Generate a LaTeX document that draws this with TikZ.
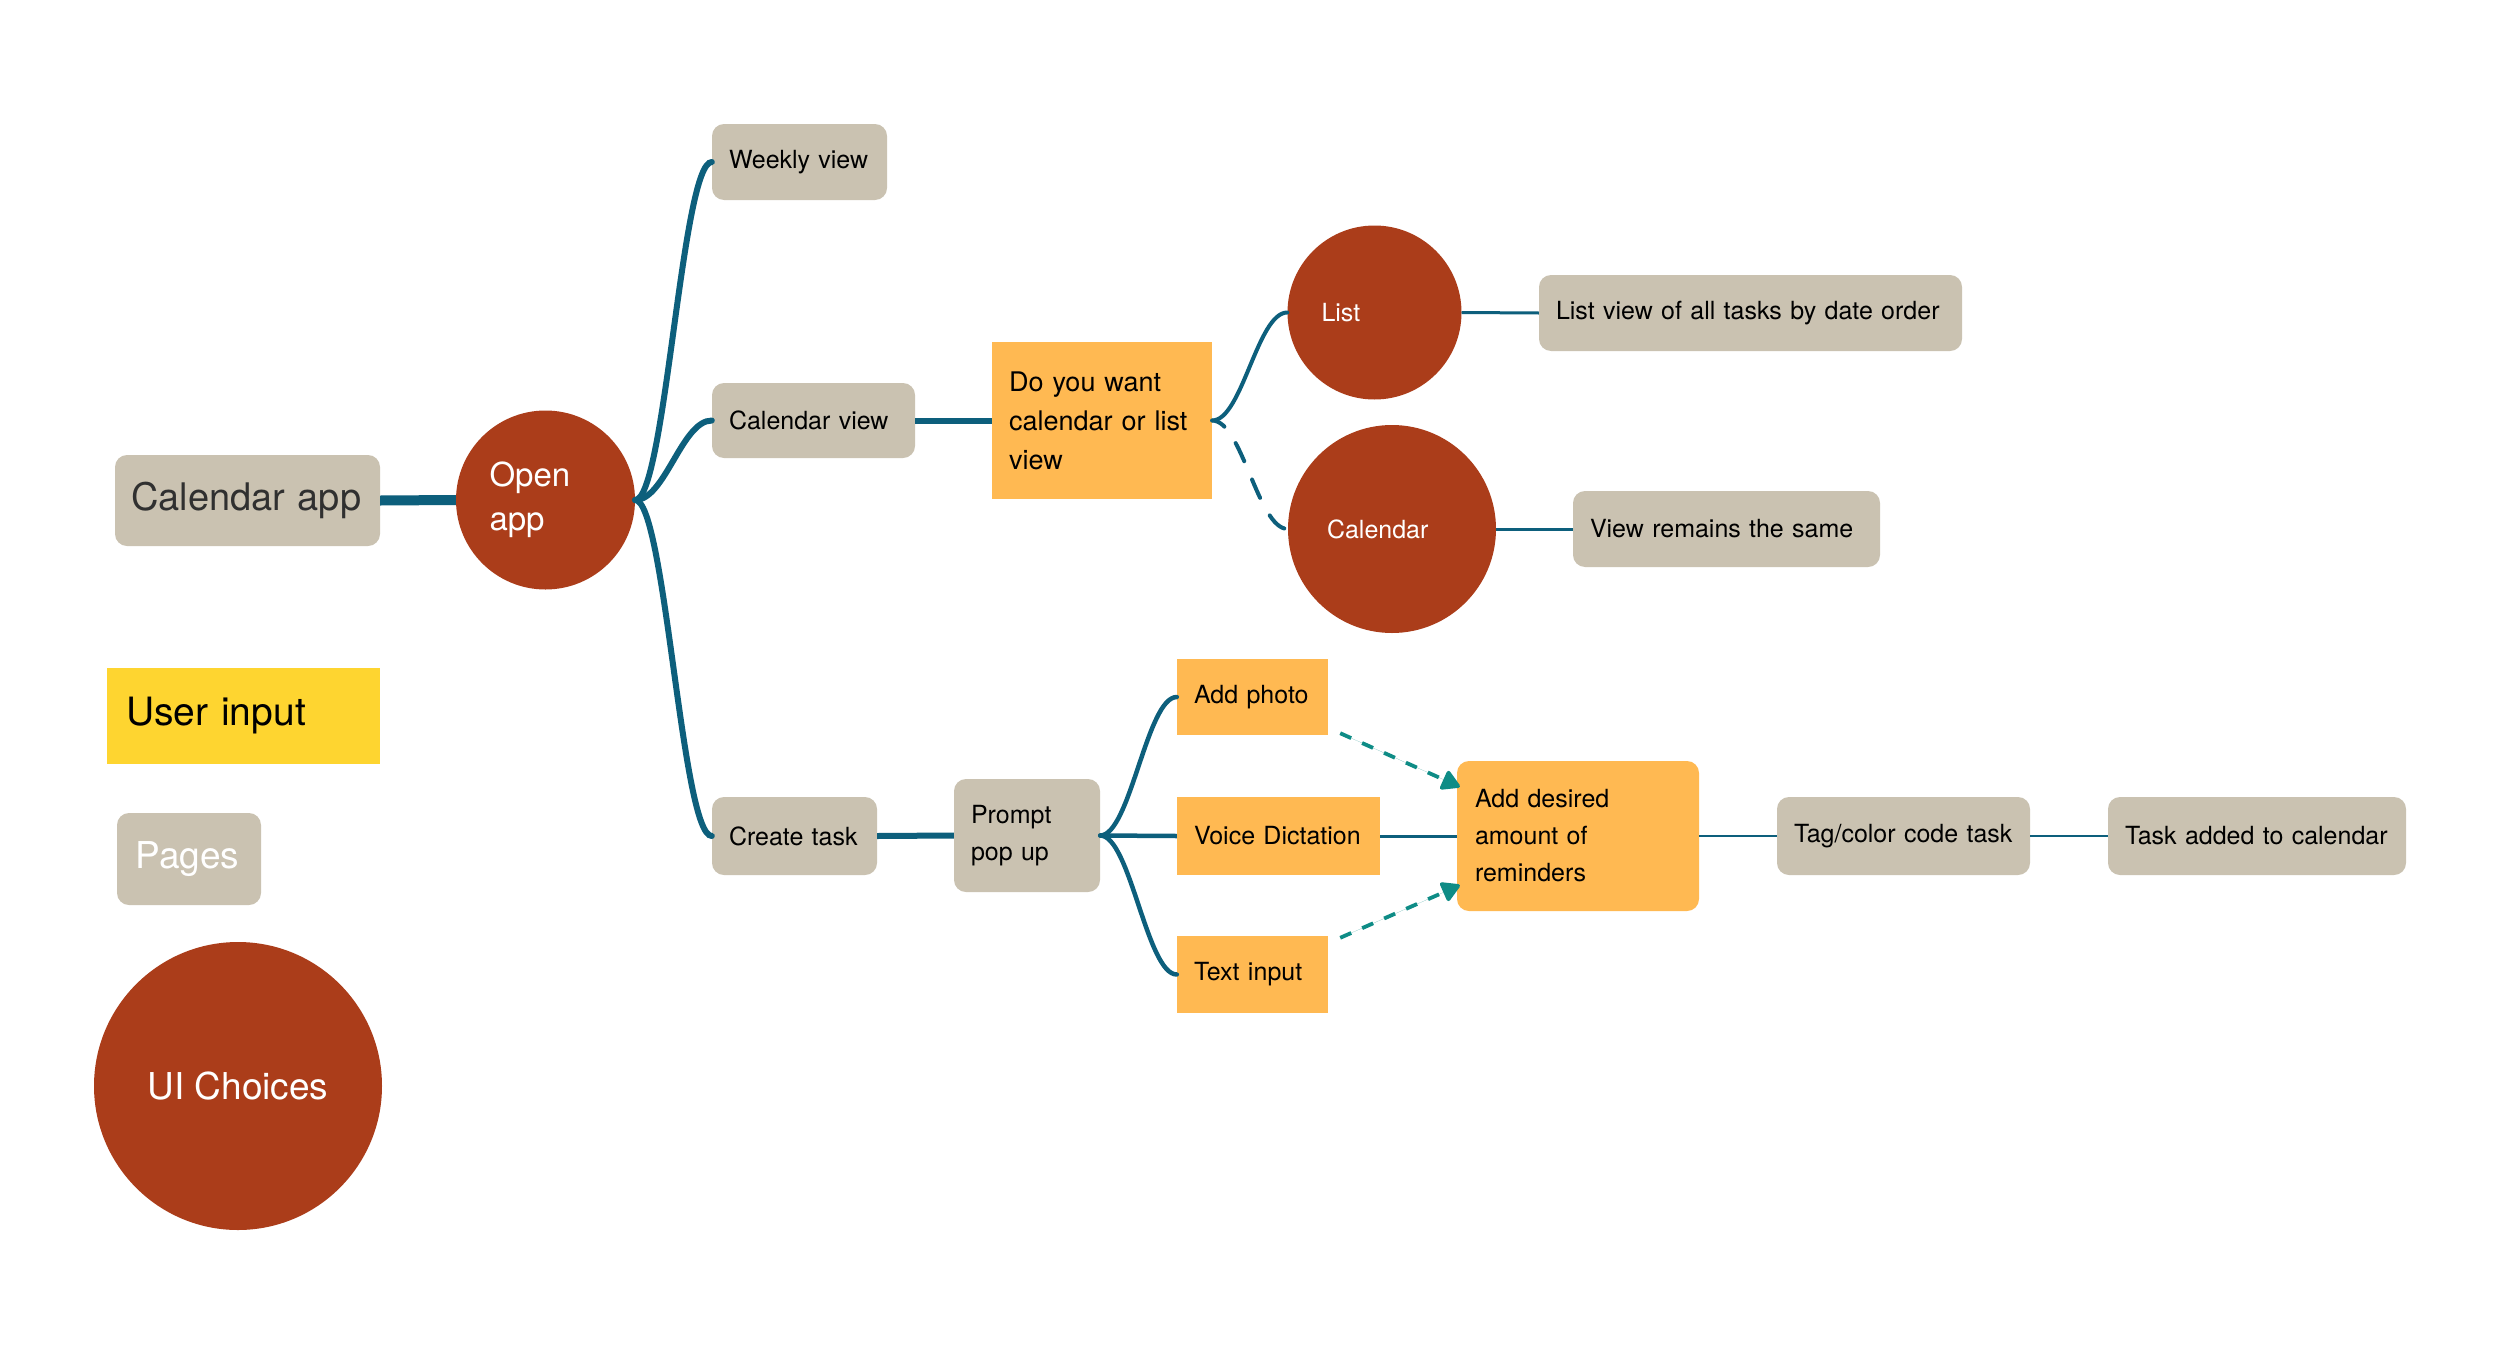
\documentclass[tikz,border=0pt]{standalone}
\usepackage{fontspec}
\setmainfont{TeX Gyre Heros}
\usetikzlibrary{arrows.meta,calc}
\definecolor{boxgray}{HTML}{CAC2B1}
\definecolor{rust}{HTML}{AB3D1A}
\definecolor{orangebox}{HTML}{FFB952}
\definecolor{yellowbox}{HTML}{FED530}
\definecolor{linec}{HTML}{0D5F7C}
\definecolor{tealc}{HTML}{0E8C86}
\definecolor{darktext}{HTML}{303030}
\tikzset{
  small/.style={font=\fontsize{25}{38}\selectfont},
  gbox/.style={rectangle, rounded corners=12pt, fill=boxgray, inner xsep=17pt, inner ysep=0pt, align=left, small, text=black},
  obox/.style={rectangle, fill=orangebox, inner xsep=17pt, inner ysep=0pt, align=left, small, text=black},
  rcirc/.style={circle, fill=rust, inner sep=0pt, align=left, text=white},
  conn/.style={draw=linec, line cap=butt},
  dashteal/.style={draw=tealc, line width=3.8pt, dash pattern=on 12pt off 12pt, -{Triangle[length=20pt,width=22pt,round]}, fill=tealc},
}
\begin{document}
\begin{tikzpicture}[x=1pt,y=-1pt]
\useasboundingbox[fill=white] (0,0) rectangle (2500,1354);

% legend
\node[gbox, font=\fontsize{38}{44}\selectfont, text=darktext, minimum width=265pt, minimum height=91pt, text width=233pt, inner xsep=16pt] (calapp) at (247.5,500.5) {Calendar app};
\node[rectangle, fill=yellowbox, inner xsep=19pt, inner ysep=0pt, align=left, font=\fontsize{39}{44}\selectfont, minimum width=273pt, minimum height=96pt, text width=235pt] (userinput) at (243.5,716) {User input};
\node[gbox, font=\fontsize{37}{44}\selectfont, text=white, minimum width=144pt, minimum height=92pt, text width=107pt, inner xsep=18.5pt] (pages) at (189,859) {Pages};
\node[rcirc, align=center, font=\fontsize{37}{44}\selectfont, minimum size=288pt] (uichoices) at (238,1086) {UI Choices};

% main nodes
\node[rcirc, font=\fontsize{33}{44}\selectfont, minimum size=179pt, text width=112pt] (open) at (545.5,500) {Open\\app};
\node[gbox, minimum width=175pt, minimum height=76pt, text width=141pt] (weekly) at (799.5,162) {Weekly view};
\node[gbox, minimum width=203pt, minimum height=75pt, text width=169pt] (calview) at (813.5,420.5) {Calendar view};
\node[obox, font=\fontsize{27}{39}\selectfont, minimum width=220pt, minimum height=157pt, text width=186pt] (doyou) at (1102,420.5) {Do you want\\calendar or list\\view};
\node[rcirc, small, text=white, minimum size=174pt, text width=106pt] (list) at (1374.5,312.5) {List};
\node[gbox, minimum width=423pt, minimum height=76pt, text width=389pt] (listview) at (1750.5,313) {List view of all tasks by date order};
\node[rcirc, small, text=white, minimum size=208pt, text width=130pt] (calcirc) at (1392,529) {Calendar};
\node[gbox, minimum width=307pt, minimum height=76pt, text width=273pt] (viewsame) at (1726.5,529) {View remains the same};
\node[gbox, minimum width=165pt, minimum height=78pt, text width=131pt] (createtask) at (794.5,836) {Create task};
\node[gbox, font=\fontsize{25}{37}\selectfont, minimum width=146pt, minimum height=113pt, text width=112pt] (prompt) at (1027,835.5) {Prompt\\pop up};
\node[obox, minimum width=151pt, minimum height=76pt, text width=117pt] (addphoto) at (1252.5,697) {Add photo};
\node[obox, minimum width=203pt, minimum height=78pt, text width=169pt] (voice) at (1278.5,836) {Voice Dictation};
\node[obox, minimum width=151pt, minimum height=77pt, text width=117pt] (textinput) at (1252.5,974.5) {Text input};
\node[obox, rounded corners=12pt, font=\fontsize{25}{37}\selectfont, minimum width=242pt, minimum height=150pt, text width=206pt, inner xsep=18pt] (adddesired) at (1578,836) {Add desired\\amount of\\reminders};
\node[gbox, minimum width=253pt, minimum height=78pt, text width=219pt] (tag) at (1903.5,836) {Tag/color code task};
\node[gbox, minimum width=298pt, minimum height=78pt, text width=264pt] (taskadded) at (2257,836) {Task added to calendar};

% connectors
\draw[conn, line width=10pt] (calapp.east) -- (open.west);
\draw[conn, line width=6pt, line cap=round] (open.east) .. controls +(30,0) and +(-30,0) .. (weekly.west);
\draw[conn, line width=6pt, line cap=round] (open.east) .. controls +(30,0) and +(-30,0) .. (calview.west);
\draw[conn, line width=6pt, line cap=round] (open.east) .. controls +(30,0) and +(-30,0) .. (createtask.west);
\draw[conn, line width=6pt] (calview.east) -- (doyou.west);
\draw[conn, line width=4pt, line cap=round] (doyou.east) .. controls +(30,0) and +(-30,0) .. (list.west);
\draw[conn, line width=4pt, line cap=round, dash pattern=on 20pt off 20pt, dash phase=6pt] (doyou.east) .. controls +(30,0) and +(-30,0) .. (calcirc.west);
\draw[conn, line width=3pt] (list.east) -- (listview.west);
\draw[conn, line width=3pt] (calcirc.east) -- (viewsame.west);
\draw[conn, line width=6pt] (createtask.east) -- (prompt.west);
\draw[conn, line width=4.5pt, line cap=round] (prompt.east) .. controls +(30,0) and +(-30,0) .. (addphoto.west);
\draw[conn, line width=4.5pt] (prompt.east) -- (voice.west);
\draw[conn, line width=4.5pt, line cap=round] (prompt.east) .. controls +(30,0) and +(-30,0) .. (textinput.west);
\draw[conn, line width=3pt] (voice.east) -- (adddesired.west);
\draw[conn, line width=2pt] (adddesired.east) -- (tag.west);
\draw[conn, line width=2pt] (tag.east) -- (taskadded.west);
\draw[dashteal] ($(addphoto.south east)+(12,-2)$) -- ($(adddesired.north west)+(3,26)$);
\draw[dashteal] ($(textinput.north east)+(12,2)$) -- ($(adddesired.south west)+(3,-26)$);
\end{tikzpicture}
\end{document}
